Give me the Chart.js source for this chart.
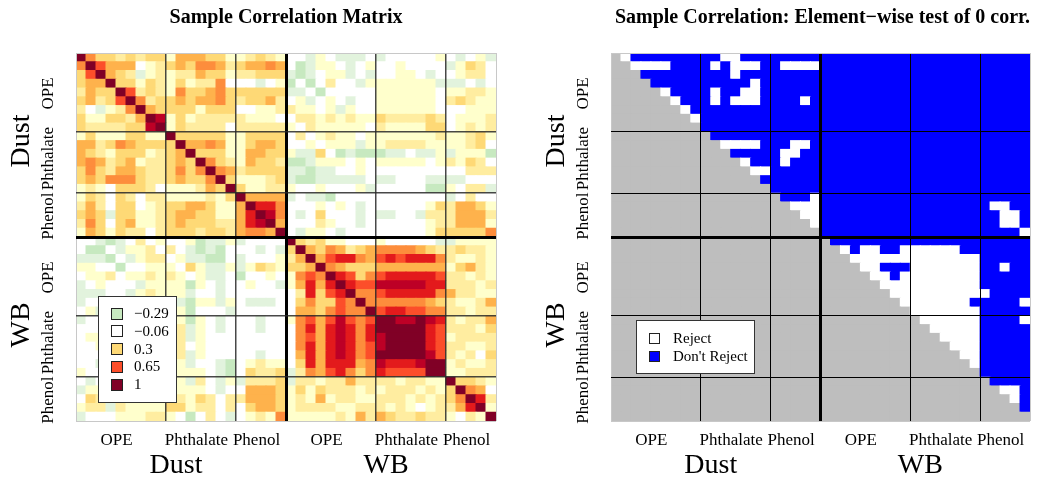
<!DOCTYPE html>
<html>
<head>
<meta charset="utf-8">
<title>Sample correlation matrices</title>
<script src="https://cdn.jsdelivr.net/npm/chart.js@4.4.1/dist/chart.umd.min.js"></script>
<style>
  body { margin: 0; background: #fff; }
  #wrap { position: relative; width: 1037px; height: 477px; overflow: hidden; }
  canvas { position: absolute; top: 0; }
</style>
</head>
<body>
<div id="wrap">
  <canvas id="corrChart" width="518" height="477" style="left:0"></canvas>
  <canvas id="testChart" width="519" height="477" style="left:518px"></canvas>
</div>
<script>
const mediaNames = ["Dust", "WB"];
const classNames = ["OPE", "Phthalate", "Phenol"];
const classSizes = [9, 7, 5];

// upper triangle of the sample correlation matrix: row r holds columns r..41
// (blocks in each row: Dust OPE | Dust Phthalate | Dust Phenol | WB OPE | WB Phthalate | WB Phenol)
const corrUpper = [
  [1,.52,.3,.3,.2,.3,.2,.3,.3, .1,.42,.42,.42,.3,.3,.1, .1,.2,.3,.2,.1, 0,0,-.12,.1,0,-.12,-.12,-.12,0, -.12,0,0,0,0,0,.1, 0,-.12,0,.1,-.12],
  [1,.63,.42,.42,.42,0,.1,.2, .3,.42,.3,.52,.52,.42,.2, .3,.42,.42,.52,.42, 0,-.25,-.12,.1,.1,0,-.12,0,.1, 0,0,.1,0,0,0,0, -.12,.1,.3,.2,0],
  [1,.42,.3,.2,-.12,.1,.2, .1,.2,.2,.42,.3,.3,.1, .2,.2,.3,.3,.3, -.12,-.25,-.12,0,.1,.1,-.12,0,-.12, 0,0,.1,.1,0,-.12,0, 0,.1,.2,.2,0],
  [1,.3,.3,.1,.3,.2, .1,.3,.1,.2,.2,.52,0, 0,0,-.12,0,.1, -.25,0,-.25,0,.2,0,0,-.12,.1, .1,.1,.1,.1,.1,.1,-.12, -.12,-.12,0,-.12,0],
  [1,.63,.2,.3,.2, .1,.52,.3,.3,.42,.52,.3, .3,.3,.3,.3,.3, -.12,-.12,0,-.25,0,0,0,0,0, .1,.1,.1,.1,.1,.1,0, .1,.1,.2,.2,.1],
  [1,.52,.2,.3, .3,.42,.3,.42,.42,.52,.3, .2,.3,.3,.42,.2, 0,.1,-.12,0,.1,0,-.12,0,0, .1,.1,.1,.1,.1,.1,0, .2,.3,.2,.1,.1],
  [1,.42,.3, .3,.3,.3,.1,.3,.3,.3, 0,0,.1,.1,.2, .2,.1,.1,0,.1,-.12,.1,0,0, .1,.1,.1,.1,.1,.1,0, 0,0,.1,.1,.1],
  [1,.85, .1,.3,.1,.2,.2,.2,.2, .2,.1,.1,.1,0, 0,.2,.2,.1,.2,.1,.2,.1,.1, .3,.2,.2,.2,.2,.3,.2, 0,.1,.1,.1,.2],
  [1, .1,.3,.2,.2,.2,.2,0, .2,.2,.2,.2,.2, .1,0,.2,.1,.1,.1,.1,.1,0, .2,.1,.1,.1,.1,.3,.3, 0,.1,.2,.1,.2],
  [1,.3,.3,.3,.3,.3,.1, .1,.3,.3,.3,.3, 0,.2,0,.1,.2,.1,.1,0,.1, .1,.1,.1,.1,.1,.1,.2, .1,.1,.2,.3,.1],
  [1,.42,.42,.52,.42,.1, .1,.3,.42,.42,.3, 0,0,.1,0,.1,.1,.1,-.12,.1, .1,.2,.2,.2,.2,.1,.1, .1,.1,.2,.3,0],
  [1,.3,.3,.3,.1, .1,.42,.42,.3,.3, .1,-.12,-.12,.3,0,-.25,-.12,-.25,-.25, -.25,-.12,-.12,0,-.12,-.12,.1, -.12,.1,.1,.1,-.25],
  [1,.52,.3,.2, .1,.42,.3,.3,.2, -.25,-.25,-.12,.1,.1,.1,0,.1,0, .1,.1,.1,.1,.1,0,.1, .2,.1,.3,.2,0],
  [1,.52,.42, .2,.3,.3,.3,.3, -.12,-.12,-.25,-.12,-.12,0,0,.1,0, 0,0,0,0,0,0,0, 0,0,.2,.2,.2],
  [1,.3, .1,.1,.1,.2,.3, -.12,-.25,-.25,-.12,-.12,-.12,-.12,-.12,0, -.12,-.12,0,0,0,-.12,-.12, -.12,-.12,0,0,0],
  [1, .3,.1,.1,.2,.2, .1,0,0,.1,0,0,0,.1,-.12, 0,0,0,0,0,-.25,-.25, .1,0,.2,.2,-.12],
  [1,.42,.42,.42,.42, -.12,0,-.12,-.12,-.25,0,0,0,0, 0,0,0,0,0,0,0, -.12,0,.2,0,0],
  [1,.74,.74,.52, 0,0,0,.1,0,.1,0,-.12,0, 0,0,0,0,0,.1,.3, .2,.42,.42,.3,.1],
  [1,.85,.52, 0,-.12,0,.3,0,0,0,-.12,0, -.12,-.12,0,0,-.12,.2,.2, .2,.42,.42,.42,.2],
  [1,.42, 0,0,0,.2,.1,0,0,-.12,0, 0,0,0,0,0,.1,.2, .2,.42,.42,.42,.1],
  [1, 0,-.12,.1,.1,0,-.12,0,0,0, 0,0,0,0,0,.1,.3, .3,.3,.3,.3,.52],
  [1,.3,.2,.3,.1,.1,0,0,0, .1,0,0,0,0,0,-.12, -.12,.1,.1,.1,.1],
  [1,.42,.3,.52,.42,.2,.3,.42, .52,.52,.52,.52,.42,.3,.2, .2,.3,.2,.2,.1],
  [1,.42,.63,.74,.74,.52,.42, .63,.74,.63,.74,.74,.74,.52, .2,.1,.1,.2,.1],
  [1,.52,.42,.3,.3,.3, .42,.42,.42,.42,.42,.42,.42, .1,.3,.42,.2,.1],
  [1,.74,.63,.3,.52, .63,.74,.74,.74,.74,.74,.63, .2,.2,.1,.2,.1],
  [1,.74,.63,.63, .85,.85,.85,.85,.85,.74,.74, .2,.2,.2,.1,.2],
  [1,.52,.52, .63,.74,.74,.74,.74,.74,.52, .42,.2,.2,.1,.1],
  [1,.52, .52,.52,.52,.52,.52,.42,.3, .2,.1,.1,.2,.42],
  [1, .63,.74,.74,.63,.63,.52,.52, .2,.2,.1,.2,.2],
  [1,.95,.85,.85,.95,.85,.74, .2,.1,.2,.2,.42],
  [1,.95,.95,.95,.74,.63, .2,.2,.2,.1,.3],
  [1,.95,.95,.74,.63, .1,.2,.2,.2,.2],
  [1,.95,.74,.63, .2,.2,.1,.1,.2],
  [1,.85,.63, .2,.1,.2,0,.3],
  [1,.95, .1,.2,.1,.1,.2],
  [1, .1,.1,.2,.2,.2],
  [1,.3,.3,.2,.1],
  [1,.52,.42,0],
  [1,.74,.2],
  [1,.1],
  [1]
];

// columns right of the diagonal where the element-wise test rejects corr = 0
const rejectCols = [
  [1, 11, 12],
  [2, 3, 4, 5, 10, 12, 13, 14, 17, 18, 19, 20],
  [12],
  [14],
  [5, 10, 13, 14],
  [6, 10, 12, 13, 14, 19],
  [7],
  [8],
  [],
  [],
  [11, 12, 13, 14, 18, 19],
  [17, 18],
  [13, 17],
  [14, 15],
  [],
  [],
  [20],
  [18, 19, 20, 38, 39],
  [19, 20, 39, 40],
  [20, 39, 40],
  [41],
  [],
  [23, 25, 26, 29, 30, 31, 32, 33, 34],
  [24, 25, 26, 27, 28, 29, 30, 31, 32, 33, 34, 35, 36],
  [25, 26, 30, 31, 32, 33, 34, 35, 36, 39],
  [26, 27, 29, 30, 31, 32, 33, 34, 35, 36],
  [27, 28, 29, 30, 31, 32, 33, 34, 35, 36],
  [28, 29, 30, 31, 32, 33, 34, 35, 36, 37],
  [29, 30, 31, 32, 33, 34, 35, 41],
  [30, 31, 32, 33, 34, 35, 36],
  [31, 32, 33, 34, 35, 36, 41],
  [32, 33, 34, 35, 36],
  [33, 34, 35, 36],
  [34, 35, 36],
  [35, 36],
  [36],
  [],
  [],
  [39, 40],
  [40],
  [],
  []
];

const corrLegendValues = [-0.29, -0.06, 0.3, 0.65, 1];
const testLegendLabels = ["Reject", "Don't Reject"];

const corrBreaks = [-0.18, -0.06, 0.05, 0.15, 0.25, 0.36, 0.47, 0.58, 0.69, 0.8, 0.9];
const corrColours = ["#c7e9c0", "#e2f3dd", "#ffffff", "#ffffcc", "#ffeda0", "#fed976",
                     "#feb24c", "#fd8d3c", "#fc4e2a", "#e31a1c", "#bd0026", "#800026"];
const testColours = { lower: "#bebebe", reject: "#ffffff", keep: "#0000ff" };

// variable names and block edges (in cells)
const varNames = [];
const blockEdges = [0];
mediaNames.forEach(m => classNames.forEach((c, k) => {
  for (let i = 1; i <= classSizes[k]; i++) varNames.push(`${m} ${c} ${i}`);
  blockEdges.push(varNames.length);
}));
const n = varNames.length;
const mediaEdge = n / 2;

function corrAt(r, c) {
  return r <= c ? corrUpper[r][c - r] : corrUpper[c][r - c];
}

function corrColour(v) {
  let i = 0;
  while (i < corrBreaks.length && v >= corrBreaks[i]) i++;
  return corrColours[i];
}

function testColour(r, c) {
  if (c <= r) return testColours.lower;
  return rejectCols[r].includes(c) ? testColours.reject : testColours.keep;
}

// one stacked dataset per matrix row, top row last so it sits on top
function buildDatasets(colourAt) {
  const sets = [];
  for (let r = n - 1; r >= 0; r--) {
    sets.push({
      label: varNames[r],
      data: varNames.map(() => 1),
      backgroundColor: varNames.map((_, c) => colourAt(r, c)),
      borderWidth: 0,
      barPercentage: 1,
      categoryPercentage: 1,
      inflateAmount: 0.5
    });
  }
  return sets;
}

function gridScales(thinColour, thinWidth) {
  const colourFor = e => (e === 0 || e === n) ? "#c8c8c8" : (e === mediaEdge ? "#000" : thinColour);
  const widthFor = e => (e === 0 || e === n) ? 1 : (e === mediaEdge ? 3 : thinWidth);
  const xEdge = c => c.type === "tick" ? c.index : n;
  return {
    x: {
      stacked: true,
      ticks: { display: false, autoSkip: false },
      border: { display: false },
      grid: {
        z: 1,
        offset: true,
        drawTicks: false,
        color: c => blockEdges.includes(xEdge(c)) ? colourFor(xEdge(c)) : "rgba(0,0,0,0)",
        lineWidth: c => blockEdges.includes(xEdge(c)) ? widthFor(xEdge(c)) : 0
      }
    },
    y: {
      stacked: true,
      min: 0,
      max: n,
      afterBuildTicks: s => { s.ticks = blockEdges.map(e => ({ value: n - e })); },
      ticks: { display: false },
      border: { display: false },
      grid: {
        z: 1,
        drawTicks: false,
        color: c => colourFor(n - c.tick.value),
        lineWidth: c => widthFor(n - c.tick.value)
      }
    }
  };
}

const serif = "'Liberation Serif', 'Times New Roman', serif";
// small nudges so the rotated class labels do not run into each other
const rotatedShift = [1, -4, 1];

const panelText = {
  id: "panelText",
  afterDraw(chart, args, opts) {
    const { ctx, chartArea: a, scales: { x, y } } = chart;
    ctx.save();
    ctx.fillStyle = "#000";
    ctx.textAlign = "center";
    ctx.textBaseline = "middle";

    ctx.font = "bold 20px " + serif;
    ctx.fillText(opts.title, (a.left + a.right) / 2 + opts.titleShift, 18);

    // class labels for each block, media labels for each half
    for (let b = 0; b < blockEdges.length - 1; b++) {
      const mid = (blockEdges[b] + blockEdges[b + 1]) / 2;
      const label = classNames[b % classNames.length];
      ctx.font = "17px " + serif;
      ctx.fillText(label, x.getPixelForValue(mid - 0.5) - 4.5, 441);
      ctx.save();
      ctx.translate(a.left - 27, y.getPixelForValue(n - mid) + rotatedShift[b % 3]);
      ctx.rotate(-Math.PI / 2);
      ctx.fillText(label, 0, 0);
      ctx.restore();
    }
    mediaNames.forEach((m, k) => {
      const mid = mediaEdge * k + mediaEdge / 2;
      ctx.font = "28px " + serif;
      ctx.fillText(m, x.getPixelForValue(mid - 0.5) - 5, 466);
      ctx.save();
      ctx.translate(a.left - 54, y.getPixelForValue(n - mid) - 4);
      ctx.rotate(-Math.PI / 2);
      ctx.fillText(m, 0, 0);
      ctx.restore();
    });

    // legend box
    const lg = opts.legend;
    const bx = a.left + lg.dx, by = lg.top;
    ctx.fillStyle = "#fff";
    ctx.fillRect(bx, by, lg.w, lg.h);
    ctx.strokeStyle = "#333";
    ctx.lineWidth = 1;
    ctx.strokeRect(bx + 0.5, by + 0.5, lg.w, lg.h);
    ctx.textAlign = "left";
    ctx.font = lg.font + "px " + serif;
    lg.items.forEach((it, i) => {
      const cy = by + lg.first + i * lg.step;
      ctx.fillStyle = it.colour;
      ctx.fillRect(bx + lg.sq0, Math.round(cy - lg.sq / 2), lg.sq, lg.sq);
      ctx.strokeStyle = "#222";
      ctx.strokeRect(bx + lg.sq0 + 0.5, Math.round(cy - lg.sq / 2) + 0.5, lg.sq, lg.sq);
      ctx.fillStyle = "#000";
      ctx.fillText(it.text, bx + lg.text0, cy + 1);
    });
    ctx.restore();
  }
};

function baseOptions(padLeft, padRight, thinColour, thinWidth, text) {
  return {
    responsive: false,
    animation: false,
    events: [],
    layout: { padding: { left: padLeft, right: padRight, top: 53, bottom: 56 } },
    scales: gridScales(thinColour, thinWidth),
    plugins: {
      legend: { display: false },
      tooltip: { enabled: false },
      title: { display: false },
      panelText: text
    }
  };
}

const fmtCorr = v => (v < 0 ? "\u2212" + Math.abs(v) : String(v));

new Chart(document.getElementById("corrChart"), {
  type: "bar",
  data: { labels: varNames, datasets: buildDatasets((r, c) => corrColour(corrAt(r, c))) },
  options: baseOptions(76, 22, "rgba(40,40,40,0.85)", 1.5, {
    title: "Sample Correlation Matrix",
    titleShift: 0,
    legend: {
      dx: 22, top: 296, w: 78, h: 106, font: 15, first: 17, step: 17.8,
      sq0: 13, sq: 11, text0: 36,
      items: corrLegendValues.map(v => ({ colour: corrColour(v), text: fmtCorr(v) }))
    }
  }),
  plugins: [panelText]
});

new Chart(document.getElementById("testChart"), {
  type: "bar",
  data: { labels: varNames, datasets: buildDatasets(testColour) },
  options: baseOptions(93, 7, "#000", 1, {
    title: "Sample Correlation: Element\u2212wise test of 0 corr.",
    titleShift: 2,
    legend: {
      dx: 25, top: 320, w: 118, h: 53, font: 15, first: 18, step: 18,
      sq0: 13, sq: 10, text0: 37,
      items: [
        { colour: testColours.reject, text: testLegendLabels[0] },
        { colour: testColours.keep, text: testLegendLabels[1] }
      ]
    }
  }),
  plugins: [panelText]
});
</script>
</body>
</html>
